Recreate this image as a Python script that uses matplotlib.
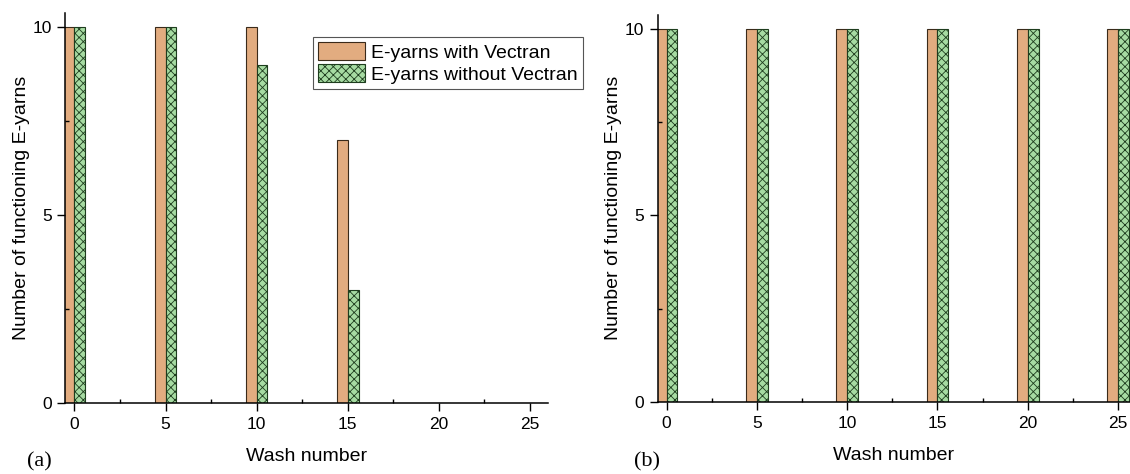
import numpy as np
import matplotlib.pyplot as plt
from matplotlib.ticker import MultipleLocator

plt.rcParams["font.family"] = ["Liberation Sans", "DejaVu Sans"]
plt.rcParams["hatch.linewidth"] = 0.6

# wash counts and number of working e-yarns after each wash
washes = [0, 5, 10, 15, 20, 25]
with_vectran_a = [10, 10, 10, 7, 0, 0]
without_vectran_a = [10, 10, 9, 3, 0, 0]
with_vectran_b = [10, 10, 10, 10, 10, 10]
without_vectran_b = [10, 10, 10, 10, 10, 10]

ORANGE = "#E2AC80"
GREEN = "#A6DBA2"
BAR_W = 0.6

fig = plt.figure(figsize=(11.3, 4.74), dpi=100)
ax_a = fig.add_axes([0.0575, 0.1504, 0.4274, 0.822])
ax_b = fig.add_axes([0.582, 0.1525, 0.418, 0.8158])

panels = [
    (ax_a, with_vectran_a, without_vectran_a, (-0.52, 26.0), 10.37, "(a)", 0.024),
    (ax_b, with_vectran_b, without_vectran_b, (-0.49, 25.66), 10.38, "(b)", 0.561),
]

x = np.array(washes, dtype=float)
for ax, w, wo, xlim, ytop, tag, tag_x in panels:
    ax.bar(x - BAR_W / 2, w, width=BAR_W, color=ORANGE, edgecolor="#3a2a1a",
           linewidth=0.8, label="E-yarns with Vectran")
    ax.bar(x + BAR_W / 2, wo, width=BAR_W, color=GREEN, edgecolor="#1e3d1e",
           linewidth=0.8, hatch="xxxx", label="E-yarns without Vectran")

    ax.set_xlim(*xlim)
    ax.set_ylim(0, ytop)
    ax.set_xticks(washes)
    ax.set_yticks([0, 5, 10])
    ax.xaxis.set_minor_locator(MultipleLocator(2.5))
    ax.yaxis.set_minor_locator(MultipleLocator(2.5))
    ax.tick_params(which="major", direction="out", length=6, width=1,
                   labelsize=12.5)
    ax.tick_params(axis="y", which="major", pad=3.5)
    ax.tick_params(axis="x", which="major", pad=4.5)
    ax.tick_params(which="minor", direction="in", length=3, width=1)

    for side in ("top", "right"):
        ax.spines[side].set_visible(False)
    for side in ("left", "bottom"):
        ax.spines[side].set_linewidth(1.1)

    ax.set_xlabel("Wash number", fontsize=14, labelpad=11)
    ax.set_ylabel("Number of functioning E-yarns", fontsize=14, labelpad=2)
    fig.text(tag_x, 0.006, tag, fontsize=16, family="Liberation Serif",
             ha="left", va="bottom")

leg = ax_a.legend(loc="upper left", bbox_to_anchor=(0.277, 0.922),
                  bbox_transform=fig.transFigure, fontsize=14, frameon=True,
                  fancybox=False, framealpha=1, edgecolor="#555555",
                  borderpad=0.25, labelspacing=0.1, handlelength=2.4,
                  handleheight=1.1, handletextpad=0.35, borderaxespad=0)
leg.get_frame().set_linewidth(0.8)

fig.savefig("out.png", dpi=100)
